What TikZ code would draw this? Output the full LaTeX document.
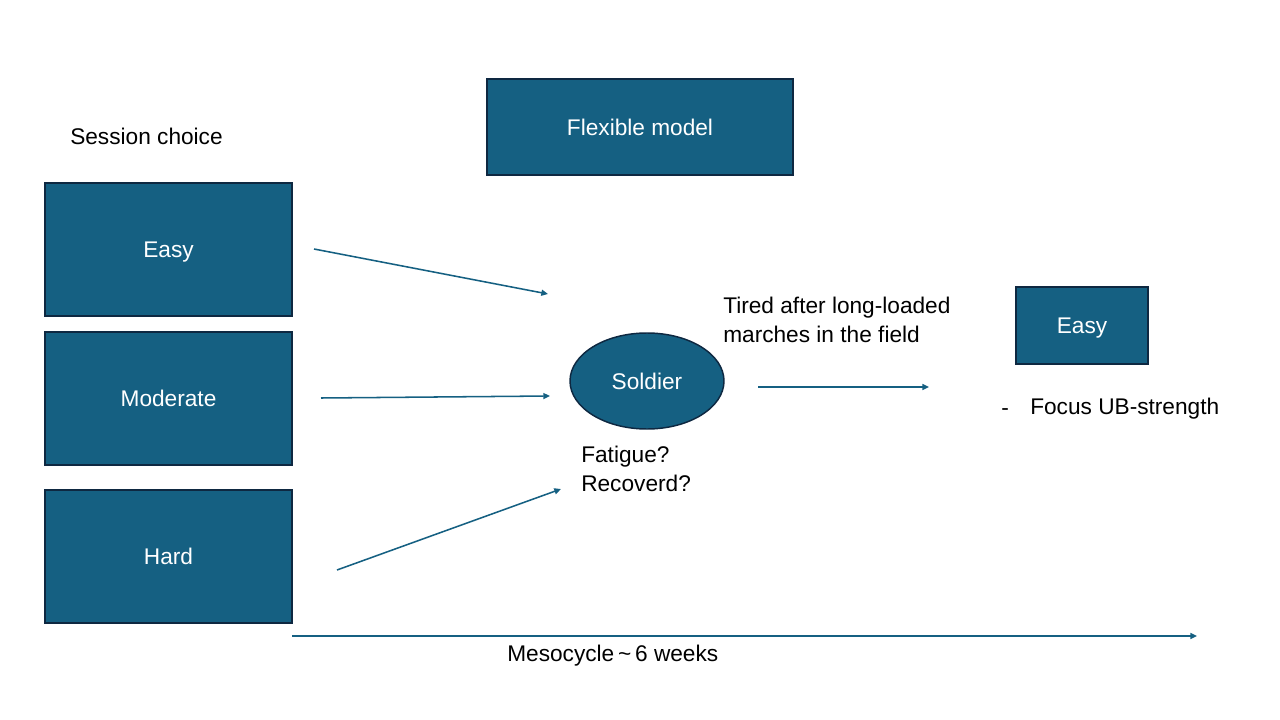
\documentclass[tikz,border=0pt]{standalone}
\usepackage{fontspec}
\setmainfont{Liberation Sans}
\usetikzlibrary{shapes.geometric,arrows.meta}
\definecolor{boxfill}{HTML}{156082}
\definecolor{boxline}{HTML}{0E2841}
\definecolor{arrowc}{HTML}{156082}
\begin{document}
\begin{tikzpicture}[x=0.75pt,y=-0.75pt,
  box/.style={draw=boxline,line width=1.1pt,fill=boxfill,text=white,font=\fontsize{17}{20}\selectfont,inner sep=0pt,text height=12.2pt,text depth=0pt},
  lbl/.style={text=black,font=\fontsize{17}{21.75}\selectfont,inner sep=0pt,align=left},
  conn/.style={draw=arrowc,line width=1.15pt,-{Triangle[length=5pt,width=4.5pt]}}]
\useasboundingbox (0,0) rectangle (1280,720);
\fill[white] (0,0) rectangle (1280,720);
% boxes
\node[box,minimum width=306*0.75pt,minimum height=96*0.75pt] (flex) at (640,127) {Flexible model};
\node[box,minimum width=247*0.75pt,minimum height=133*0.75pt] (easy) at (168.5,249.5) {Easy};
\node[box,minimum width=247*0.75pt,minimum height=133*0.75pt] (mod) at (168.5,398.5) {Moderate};
\node[box,minimum width=247*0.75pt,minimum height=133*0.75pt] (hard) at (168.5,556.5) {Hard};
\node[box,ellipse,minimum width=154*0.75pt,minimum height=96*0.75pt] (sold) at (647,381) {Soldier};
\node[box,minimum width=132*0.75pt,minimum height=77*0.75pt] (easy2) at (1082,325.5) {Easy};
% labels
\node[lbl,anchor=west] (sess) at (70,136) {Session choice};
\node[lbl,anchor=north west] (tired) at (723,297) {Tired after long-loaded\\marches in the field};
\node[lbl,anchor=north west] (fat) at (581,446) {Fatigue?\\Recoverd?};
\node[lbl,anchor=west] (dash) at (1001,412) {-};
\node[lbl,anchor=west] (focus) at (1030,409) {Focus UB-strength};
\node[lbl,anchor=west] (meso) at (507,656) {Mesocycle\,\textasciitilde\,6 weeks};
% connector ends
\coordinate (a1s) at (314,249); \coordinate (a1e) at (548,294);
\coordinate (a2s) at (321,398); \coordinate (a2e) at (550,396);
\coordinate (a3s) at (337,570); \coordinate (a3e) at (561,489);
\coordinate (a4s) at (758,387); \coordinate (a4e) at (929,387);
\coordinate (a5s) at (292,636); \coordinate (a5e) at (1197,636);
\draw[conn] (a1s) -- (a1e);
\draw[conn] (a2s) -- (a2e);
\draw[conn] (a3s) -- (a3e);
\draw[conn] (a4s) -- (a4e);
\draw[conn] (a5s) -- (a5e);
\end{tikzpicture}
\end{document}
